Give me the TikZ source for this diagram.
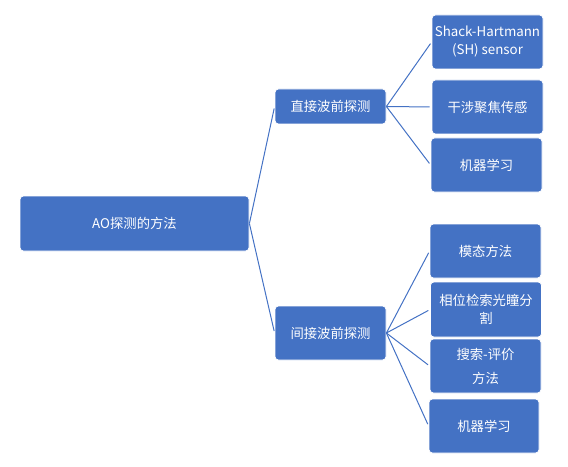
\documentclass[tikz,border=0pt]{standalone}
\usepackage{fontspec}
\setmainfont{Noto Sans CJK SC}
\definecolor{aoblue}{HTML}{4472C4}

\begin{document}
\begin{tikzpicture}[x=0.75pt, y=-0.75pt,
    box/.style={rectangle, rounded corners=2.5pt, draw=white, line width=0.6pt,
        fill=aoblue, text=white, inner sep=0pt, align=center,
        minimum width=83.25pt, minimum height=40.5pt,
        font=\fontsize{10}{13.5}\selectfont},
    link/.style={draw=aoblue, line width=0.75pt, shorten >=1.5pt}]
        \useasboundingbox (0,0) rectangle (568,467);

        % Draw nodes
        \node[box, minimum width=171.75pt, minimum height=41.25pt] (root) at (134.5,223.5) {AO探测的方法};
        \node[box, minimum height=26.25pt] (direct) at (330.5,106.5) {直接波前探测};
        \node[box] (indirect) at (330.5,333) {间接波前探测};

        \node[box] (sh) at (487.5,42) {Shack-Hartmann\\(SH) sensor};
        \node[box] (interf) at (487.5,107) {干涉聚焦传感};
        \node[box] (mlA) at (486.5,165) {机器学习};

        \node[box] (modal) at (485.5,251) {模态方法};
        \node[box, minimum height=41.25pt] (phase) at (486,309.5) {相位检索光瞳分\\割};
        \node[box] (search) at (485.5,366) {搜索-评价\\[4.5pt]方法};
        \node[box, minimum width=82.5pt] (mlB) at (484,426) {机器学习};

        % Draw connections
        \draw[link] (root.east) -- (direct.west);
        \draw[link] (root.east) -- (indirect.west);

        \draw[link] (direct.east) -- (sh.west);
        \draw[link] (direct.east) -- (interf.west);
        \draw[link] (direct.east) -- (mlA.west);

        \draw[link] (indirect.east) -- (modal.west);
        \draw[link] (indirect.east) -- (phase.west);
        \draw[link] (indirect.east) -- (search.west);
        \draw[link] (indirect.east) -- (mlB.west);
    \end{tikzpicture}
\end{document}
